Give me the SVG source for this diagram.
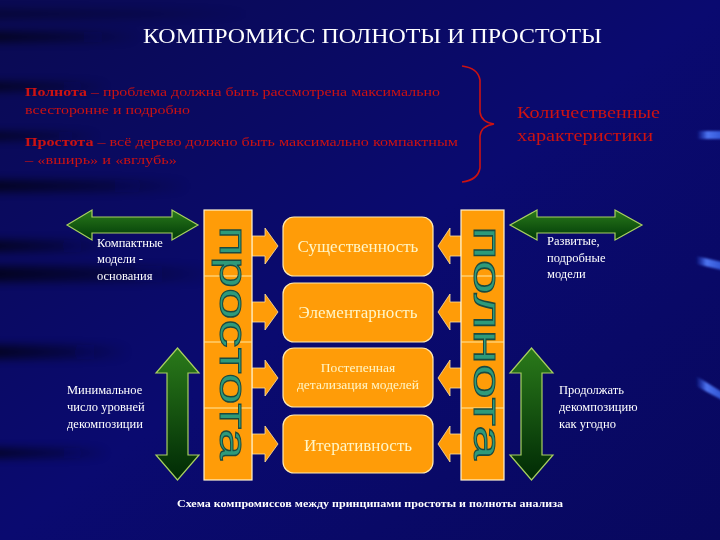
<svg xmlns="http://www.w3.org/2000/svg" width="720" height="540" viewBox="0 0 720 540">
<defs>
<linearGradient id="bg" x1="0" y1="0" x2="1" y2="1">
<stop offset="0" stop-color="#0a0a52"/>
<stop offset="0.5" stop-color="#0a0a70"/>
<stop offset="1" stop-color="#08085e"/>
</linearGradient>
<linearGradient id="streak" x1="0" y1="0" x2="1" y2="0">
<stop offset="0" stop-color="#000000" stop-opacity="0.85"/>
<stop offset="0.6" stop-color="#000010" stop-opacity="0.4"/>
<stop offset="1" stop-color="#000020" stop-opacity="0"/>
</linearGradient>
<linearGradient id="blue" x1="0" y1="0" x2="1" y2="0">
<stop offset="0" stop-color="#3366ff" stop-opacity="0"/>
<stop offset="0.4" stop-color="#5580ff" stop-opacity="0.9"/>
<stop offset="1" stop-color="#3a66ee" stop-opacity="0.8"/>
</linearGradient>
<linearGradient id="gh" x1="0" y1="0" x2="0" y2="1">
<stop offset="0" stop-color="#2a7a1a"/>
<stop offset="1" stop-color="#003a08"/>
</linearGradient>
<linearGradient id="gv" x1="0" y1="0" x2="0" y2="1">
<stop offset="0" stop-color="#2a7a1a"/>
<stop offset="1" stop-color="#002a05"/>
</linearGradient>
<filter id="blur" x="-20%" y="-100%" width="140%" height="300%"><feGaussianBlur stdDeviation="4"/></filter>
<filter id="blur2" x="-20%" y="-50%" width="140%" height="200%"><feGaussianBlur stdDeviation="1.2"/></filter>
</defs>
<style>
.ttl{font-family:"Liberation Serif","DejaVu Serif",serif;fill:#ffffff;font-size:20px}
.red{font-family:"Liberation Serif","DejaVu Serif",serif;fill:#cc1212;font-size:13px}
.red2{font-family:"Liberation Serif","DejaVu Serif",serif;fill:#cc1212;font-size:17px}
.lbl{font-family:"Liberation Serif","DejaVu Serif",serif;fill:#ffffff;font-size:12.5px}
.box{fill:#ff9c08;stroke:#ffe9b0;stroke-width:1.2}
.bar{fill:#ff9c08;stroke:#fff3d0;stroke-width:1.2}
.div{stroke:#ffe8a0;stroke-width:1}
.btx{font-family:"Liberation Serif","DejaVu Serif",serif;fill:#fff6c8;font-size:17px;text-anchor:middle}
.btx2{font-family:"Liberation Serif","DejaVu Serif",serif;fill:#fff6c8;font-size:13.5px;text-anchor:middle}
.arr{fill:#ff9c08;stroke:#ffe2a0;stroke-width:0.8}
.vt{font-family:"Liberation Sans","DejaVu Sans",sans-serif;fill:#2e9a7a;stroke:#1a4a40;stroke-width:1;font-size:38px}
.green{stroke:#a8d060;stroke-width:1.2}
.cap{font-family:"Liberation Serif","DejaVu Serif",serif;fill:#ffffff;font-size:10.5px;font-weight:bold}
</style>
<rect width="720" height="540" fill="url(#bg)"/>
<g id="streaks" filter="url(#blur)" opacity="0.8">
<rect x="-10" y="32" width="150" height="10" fill="url(#streak)"/>
<rect x="-10" y="82" width="120" height="9" fill="url(#streak)"/>
<rect x="-10" y="132" width="110" height="8" fill="url(#streak)"/>
<rect x="-10" y="180" width="200" height="12" fill="url(#streak)"/>
<rect x="-10" y="240" width="120" height="12" fill="url(#streak)"/>
<rect x="-10" y="266" width="230" height="16" fill="url(#streak)"/>
<rect x="-10" y="345" width="140" height="14" fill="url(#streak)"/>
<rect x="-10" y="448" width="120" height="10" fill="url(#streak)"/>
<rect x="-10" y="10" width="260" height="8" fill="url(#streak)" opacity="0.6"/>
</g>
<g id="glints" filter="url(#blur2)">
<rect x="697" y="131" width="26" height="8" fill="url(#blue)"/>
<path d="M696 256 L722 262 L722 270 L696 264 Z" fill="url(#blue)"/>
<path d="M696 376 L722 392 L722 400 L696 386 Z" fill="url(#blue)"/>
</g>
<g id="title"><text class="ttl" x="143" y="43" textLength="459" lengthAdjust="spacingAndGlyphs">КОМПРОМИСС ПОЛНОТЫ И ПРОСТОТЫ</text></g>
<g id="definitions">
<text class="red" x="25" y="96" textLength="415" lengthAdjust="spacingAndGlyphs"><tspan font-weight="bold">Полнота</tspan> – проблема должна быть рассмотрена максимально</text>
<text class="red" x="25" y="114" textLength="165" lengthAdjust="spacingAndGlyphs">всесторонне и подробно</text>
<text class="red" x="25" y="146" textLength="433" lengthAdjust="spacingAndGlyphs"><tspan font-weight="bold">Простота</tspan> – всё дерево должно быть максимально компактным</text>
<text class="red" x="25" y="164" textLength="152" lengthAdjust="spacingAndGlyphs">– «вширь» и «вглубь»</text>
</g>
<g id="brace">
<path d="M462 66 Q478 68 480 80 L480 112 Q481 122 494 124 Q481 126 480 136 L480 168 Q478 180 462 182" fill="none" stroke="#cc1212" stroke-width="1.6"/>
</g>
<g id="quant">
<text class="red2" x="517" y="118" textLength="143" lengthAdjust="spacingAndGlyphs">Количественные</text>
<text class="red2" x="517" y="141" textLength="136" lengthAdjust="spacingAndGlyphs">характеристики</text>
</g>
<g id="connectors">
<path class="arr" d="M252 236 L265 236 L265 228 L278 246 L265 264 L265 256 L252 256 Z"/>
<path class="arr" d="M252 302 L265 302 L265 294 L278 312 L265 330 L265 322 L252 322 Z"/>
<path class="arr" d="M252 368 L265 368 L265 360 L278 378 L265 396 L265 388 L252 388 Z"/>
<path class="arr" d="M252 434 L265 434 L265 426 L278 444 L265 462 L265 454 L252 454 Z"/>
<path class="arr" d="M461 236 L450 236 L450 228 L438 246 L450 264 L450 256 L461 256 Z"/>
<path class="arr" d="M461 302 L450 302 L450 294 L438 312 L450 330 L450 322 L461 322 Z"/>
<path class="arr" d="M461 368 L450 368 L450 360 L438 378 L450 396 L450 388 L461 388 Z"/>
<path class="arr" d="M461 434 L450 434 L450 426 L438 444 L450 462 L450 454 L461 454 Z"/>
<path class="green" fill="url(#gh)" d="M67 225 L92 210 L92 217 L172 217 L172 210 L198 225 L172 240 L172 233 L92 233 L92 240 Z"/>
<path class="green" fill="url(#gh)" d="M510 225 L537 210 L537 217 L615 217 L615 210 L642 225 L615 240 L615 233 L537 233 L537 240 Z"/>
<path class="green" fill="url(#gv)" d="M177.5 348 L199 373 L188 373 L188 455 L199 455 L177.5 480 L156 455 L167 455 L167 373 L156 373 Z"/>
<path class="green" fill="url(#gv)" d="M531.5 348 L553 373 L542 373 L542 455 L553 455 L531.5 480 L510 455 L521 455 L521 373 L510 373 Z"/>
</g>
<g id="prostota">
<rect class="bar" x="204" y="210" width="48" height="270"/>
<line class="div" x1="204" y1="276" x2="252" y2="276"/>
<line class="div" x1="204" y1="342" x2="252" y2="342"/>
<line class="div" x1="204" y1="408" x2="252" y2="408"/>
<text class="vt" transform="translate(220,226) rotate(90)" textLength="234" lengthAdjust="spacingAndGlyphs">простота</text>
</g>
<g id="polnota">
<rect class="bar" x="461" y="210" width="43" height="270"/>
<line class="div" x1="461" y1="276" x2="504" y2="276"/>
<line class="div" x1="461" y1="342" x2="504" y2="342"/>
<line class="div" x1="461" y1="408" x2="504" y2="408"/>
<text class="vt" transform="translate(474,226) rotate(90)" textLength="234" lengthAdjust="spacingAndGlyphs">полнота</text>
</g>
<g id="n1"><rect class="box" x="283" y="217" width="150" height="59" rx="11"/><text class="btx" x="358" y="252">Существенность</text></g>
<g id="n2"><rect class="box" x="283" y="283" width="150" height="59" rx="11"/><text class="btx" x="358" y="318">Элементарность</text></g>
<g id="n3"><rect class="box" x="283" y="348" width="150" height="59" rx="11"/><text class="btx2" x="358" y="372">Постепенная</text><text class="btx2" x="358" y="389">детализация моделей</text></g>
<g id="n4"><rect class="box" x="283" y="415" width="150" height="58" rx="11"/><text class="btx" x="358" y="451">Итеративность</text></g>
<g id="labels">
<text class="lbl" x="97" y="247">Компактные</text>
<text class="lbl" x="97" y="263">модели -</text>
<text class="lbl" x="97" y="280">основания</text>
<text class="lbl" x="67" y="394">Минимальное</text>
<text class="lbl" x="67" y="411">число уровней</text>
<text class="lbl" x="67" y="428">декомпозиции</text>
<text class="lbl" x="547" y="245">Развитые,</text>
<text class="lbl" x="547" y="262">подробные</text>
<text class="lbl" x="547" y="278">модели</text>
<text class="lbl" x="559" y="394">Продолжать</text>
<text class="lbl" x="559" y="411">декомпозицию</text>
<text class="lbl" x="559" y="428">как угодно</text>
</g>
<g id="caption"><text class="cap" x="177" y="507" textLength="386" lengthAdjust="spacingAndGlyphs">Схема компромиссов между принципами простоты и полноты анализа</text></g>
</svg>
